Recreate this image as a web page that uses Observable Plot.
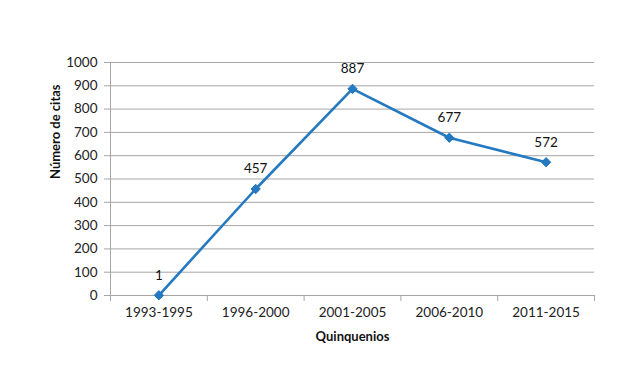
<!DOCTYPE html>
<html>
<head>
<meta charset="utf-8">
<script src="https://cdn.jsdelivr.net/npm/d3@7"></script>
<script src="https://cdn.jsdelivr.net/npm/@observablehq/plot@0.6"></script>
<style>
  html, body { margin: 0; padding: 0; background: #fff; }
  #chart svg { display: block; }
</style>
</head>
<body>
<div id="chart"></div>
<script>
const categories = ["1993-1995", "1996-2000", "2001-2005", "2006-2010", "2011-2015"];
const citas = [1, 457, 887, 677, 572];
const yTicks = [0, 100, 200, 300, 400, 500, 600, 700, 800, 900, 1000];

const data = categories.map((c, i) => ({i, c, v: citas[i]}));
const bounds = d3.range(categories.length + 1).map(k => k - 0.5);

const font = "Lato, 'Open Sans', sans-serif";
const blue = "#2479c0";
const grid = "#a6a6a6";

const chart = Plot.plot({
  width: 644,
  height: 388,
  marginLeft: 110,
  marginRight: 50,
  marginTop: 62,
  marginBottom: 93,
  style: {fontFamily: font, fontSize: "13px", color: "#222", background: "#fff"},
  x: {type: "linear", domain: [-0.5, categories.length - 0.5]},
  y: {domain: [0, 1000]},
  marks: [
    Plot.gridY(yTicks, {stroke: grid, strokeOpacity: 1, strokeWidth: 1}),
    Plot.ruleX([-0.5], {stroke: grid, strokeWidth: 1}),
    Plot.ruleY([0], {stroke: grid, strokeWidth: 1}),
    Plot.axisY(yTicks, {tickSize: 6, tickPadding: 7, tickFormat: d => String(d), stroke: grid, label: null, fill: "#222", fontSize: 13.5}),
    Plot.axisX(bounds, {tickSize: 6, tickFormat: () => "", stroke: grid, label: null}),
    Plot.axisX(d3.range(categories.length), {tickSize: 0, tickPadding: 12, tickFormat: i => categories[i], label: null, fill: "#222", fontSize: 13.5}),
    Plot.line(data, {x: "i", y: "v", stroke: blue, strokeWidth: 2.6}),
    Plot.dot(data, {x: "i", y: "v", symbol: "diamond2", r: 4.2, fill: blue, stroke: blue, strokeWidth: 1}),
    Plot.text(data, {x: "i", y: "v", text: d => String(d.v), dy: -20, fill: "#111", fontSize: 13.5}),
    Plot.text(["Número de citas"], {frameAnchor: "left", dx: -55, rotate: -90, fontWeight: "bold", fontSize: 13, fill: "#111"}),
    Plot.text(["Quinquenios"], {frameAnchor: "bottom", dy: 45, fontWeight: "bold", fontSize: 13, fill: "#111"})
  ]
});
document.getElementById("chart").appendChild(chart);
</script>
</body>
</html>
